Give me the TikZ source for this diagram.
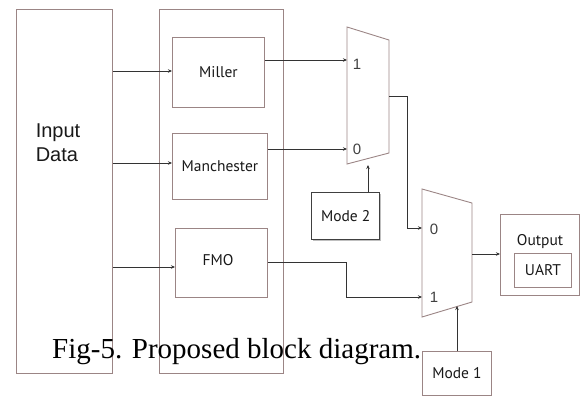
\documentclass[tikz,border=0pt]{standalone}
\usepackage{fontspec}
\setmainfont{Liberation Serif}
\newfontfamily\arialf{Liberation Sans}
\newfontfamily\blockf{PT Sans}
\usetikzlibrary{arrows.meta}
\begin{document}
\begin{tikzpicture}[x=1pt,y=-1pt,
  box/.style={draw=black!45!red!20!gray!80, line width=0.9pt, inner sep=0pt, anchor=north west},
  lbl/.style={font=\blockf\fontsize{15.5}{18}\selectfont, text=black!90},
  conn/.style={draw=black!80, line width=0.9pt, -{Stealth[length=4pt,width=3.5pt]}},
  wire/.style={draw=black!80, line width=0.9pt},
  mux/.style={draw=black!45!red!20!gray!80, line width=0.9pt}]
\useasboundingbox (0,0) rectangle (583,396);
% input and container
\node[box, minimum width=96pt, minimum height=364pt] (input) at (16,9) {};
\node[font=\arialf\fontsize{20}{24}\selectfont, align=left, text=black!90] (inputtxt) at (58,143) {Input\\Data};
\node[box, minimum width=124pt, minimum height=364pt] (cont) at (159,9) {};
% encoders
\node[box, minimum width=92pt, minimum height=70pt] (miller) at (172,37) {};
\node[lbl] (millertxt) at (miller.center) {Miller};
\node[box, minimum width=95pt, minimum height=66pt] (manch) at (172,133) {};
\node[lbl] (manchtxt) at (manch.center) {Manchester};
\node[box, minimum width=92pt, minimum height=69pt] (fmo) at (175,228) {};
\node[lbl] (fmotxt) at (218,260) {FMO};
% muxes
\draw[mux] (347,27) -- (389,40) -- (389,153) -- (347,164) -- cycle;
\coordinate (m1a) at (347,60);
\coordinate (m1b) at (347,149);
\coordinate (m1o) at (389,96);
\coordinate (m1s) at (368,165);
\node[font=\arialf\fontsize{15}{18}\selectfont, text=black!75] (m1one) at (357,64) {1};
\node[font=\arialf\fontsize{15}{18}\selectfont, text=black!75] (m1zero) at (357,149) {0};
\draw[mux] (422,189) -- (472,203) -- (472,302) -- (422,317) -- cycle;
\coordinate (m2a) at (422,228);
\coordinate (m2b) at (422,297);
\coordinate (m2o) at (472,254);
\coordinate (m2s) at (457,306);
\node[font=\arialf\fontsize{15}{18}\selectfont, text=black!75] (m2zero) at (434,229) {0};
\node[font=\arialf\fontsize{15}{18}\selectfont, text=black!75] (m2one) at (434,297) {1};
% mode boxes
\fill[black!25] (313,194) rectangle (381,241);
\node[box, draw=black!75, line width=1.4pt, fill=white, minimum width=68pt, minimum height=47pt] (mode2) at (311,192) {};
\node[lbl] (mode2txt) at (mode2.center) {Mode 2};
\node[box, minimum width=69pt, minimum height=44pt] (mode1) at (422,351) {};
\node[lbl] (mode1txt) at (mode1.center) {Mode 1};
% output
\node[box, minimum width=79pt, minimum height=81pt] (out) at (500,214) {};
\node[lbl] (outtxt) at (540,242) {Output};
\node[box, minimum width=57pt, minimum height=34pt] (uart) at (514,253) {};
\node[lbl] (uarttxt) at (uart.center) {UART};
% connectors from input
\draw[conn] (input.east |- 0,71) -- (miller.west |- 0,71);
\draw[conn] (input.east |- 0,163) -- (manch.west |- 0,163);
\draw[conn] (input.east |- 0,267) -- (fmo.west |- 0,267);
% encoder outputs
\draw[conn] (miller.east |- m1a) -- (m1a);
\draw[conn] (manch.east |- m1b) -- (m1b);
\draw[conn] (m1o) -- (407,96) -- (407,228) -- (m2a);
\draw[conn] (fmo.east |- 0,262) -- (346,262) -- (346,297) -- (m2b);
\draw[conn] (m2o) -- (out.west |- m2o);
\draw[conn] (mode2.north -| m1s) -- (m1s);
\draw[conn] (mode1.north -| m2s) -- (m2s);
% caption
\node[font=\fontsize{29}{33}\selectfont, anchor=base west, inner sep=0pt] (cap) at (52,358) {Fig-5. Proposed block diagram.};
\end{tikzpicture}
\end{document}
